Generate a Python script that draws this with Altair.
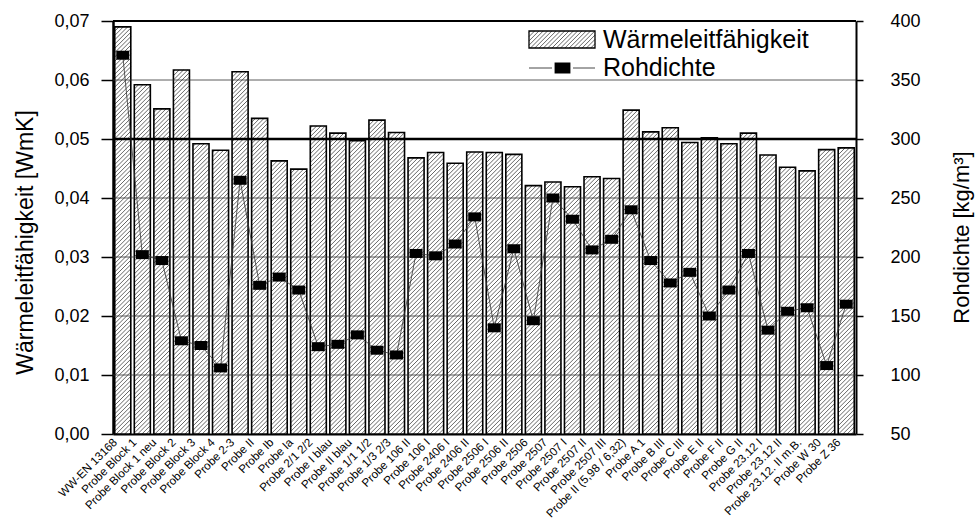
import math

import altair as alt
import pandas as pd

# ---- data -------------------------------------------------------------
names = [
    "WW-EN 13168", "Probe Block 1", "Probe Block 1 neu", "Probe Block 2",
    "Probe Block 3", "Probe Block 4", "Probe 2-3", "Probe II", "Probe Ib",
    "Probe Ia", "Probe 2/1 2/2", "Probe I blau", "Probe II blau",
    "Probe 1/1 1/2", "Probe 1/3 2/3", "Probe 106 II", "Probe 106 I",
    "Probe 2406 I", "Probe 2406 II", "Probe 2506 I", "Probe 2506 II",
    "Probe 2506", "Probe 2507", "Probe 2507 I", "Probe 2507 II",
    "Probe 2507 III", "Probe II (5,98 / 6,32)", "Probe A 1", "Probe B III",
    "Probe C III", "Probe E II", "Probe F II", "Probe G II", "Probe 23.12 I",
    "Probe 23.12 II", "Probe 23.12. II m.B.", "Probe W 30", "Probe Z 36",
]

# thermal conductivity [W/mK]
waerme = [
    0.0690, 0.0592, 0.0551, 0.0617, 0.0492, 0.0481, 0.0614, 0.0535, 0.0463,
    0.0449, 0.0522, 0.0510, 0.0497, 0.0532, 0.0511, 0.0468, 0.0477, 0.0459,
    0.0478, 0.0477, 0.0474, 0.0421, 0.0427, 0.0419, 0.0436, 0.0433, 0.0549,
    0.0512, 0.0519, 0.0494, 0.0502, 0.0492, 0.0510, 0.0473, 0.0452, 0.0446,
    0.0482, 0.0485,
]

# bulk density [kg/m3]
rohdichte = [
    371, 202, 197, 129, 125, 106, 265, 176, 183, 172, 124, 126, 134, 121, 117,
    203, 201, 211, 234, 140, 207, 146, 250, 232, 206, 215, 240, 197, 178, 187,
    150, 172, 203, 138, 154, 157, 108, 160,
]

left_ticks = [round(i * 0.005, 3) for i in range(15)]
right_ticks = list(range(50, 401, 25))
grid_levels = [0.01, 0.02, 0.03, 0.04, 0.06]
limit_level = [0.05]
top_level = [0.07]

# ---- layout constants -------------------------------------------------
W, H = 743, 413
N = len(names)
Y_MAX = 0.07
BAR_HALF = 0.41
FONT = "Liberation Sans"

df = pd.DataFrame({
    "pos": list(range(1, N + 1)),
    "name": names,
    "lam": waerme,
    "rho": rohdichte,
})
df["x0"] = df["pos"] - BAR_HALF
df["x1"] = df["pos"] + BAR_HALF

# 45 degree hatching inside every bar, built in data units
px_x = W / N
px_y = H / Y_MAX
k = px_x / px_y          # data-y per data-x for a 45 degree line
step = 4.3 / px_y        # vertical spacing of the hatch lines
hatch = []
for x0, x1, v in zip(df["x0"], df["x1"], df["lam"]):
    j0 = math.ceil((-x1 * k) / step)
    j1 = math.floor((v - x0 * k) / step)
    for j in range(j0, j1 + 1):
        c = j * step
        xs = max(x0, -c / k)
        xe = min(x1, (v - c) / k)
        if xe - xs > 1e-4:
            hatch.append({"hx0": xs, "hy0": c + xs * k, "hx1": xe, "hy1": c + xe * k})
hatch_df = pd.DataFrame(hatch)

x_scale = alt.Scale(domain=[0.5, N + 0.5], nice=False, zero=False)
y_left = alt.Scale(domain=[0, Y_MAX], nice=False, zero=False)
y_right = alt.Scale(domain=[50, 400], nice=False, zero=False)

x_axis = alt.Axis(
    values=list(range(1, N + 1)), labels=False, ticks=False,
    domainColor="black", domainWidth=2, grid=False, title=None,
)

left_axis = alt.Axis(
    values=left_ticks,
    labelExpr="round(datum.value * 1000) % 10 == 0 ? replace(format(datum.value, '.2f'), '.', ',') : ''",
    labelFontSize=18, labelColor="black", labelPadding=12,
    tickSize=12, tickWidth=1.5, tickColor="black",
    domainColor="black", domainWidth=2.5, grid=False,
    title="Wärmeleitfähigkeit [WmK]", titleFontSize=23, titleFontWeight="normal",
    titleColor="black", titleAngle=270, titleX=-81, titleY=221,
    titleAlign="center", titleBaseline="alphabetic",
)

right_axis = alt.Axis(
    orient="right", values=right_ticks,
    labelExpr="datum.value % 50 == 0 ? datum.label : ''",
    labelFontSize=18, labelColor="black", labelPadding=27,
    tickSize=7, tickWidth=1.5, tickColor="black",
    domainColor="black", domainWidth=2, grid=False,
    title="Rohdichte [kg/m³]", titleFontSize=22, titleFontWeight="normal",
    titleColor="black", titleAngle=270, titleX=112, titleY=216,
    titleAlign="center", titleBaseline="alphabetic",
)

# ---- conductivity bars -------------------------------------------------
bars = alt.Chart(df).mark_rect(fill="white", stroke=None).encode(
    x=alt.X("x0:Q", scale=x_scale, axis=x_axis),
    x2="x1:Q",
    y=alt.Y("lam:Q", scale=y_left, axis=left_axis),
    y2=alt.datum(0),
)

hatch_lines = alt.Chart(hatch_df).mark_rule(color="#333", strokeWidth=0.75).encode(
    x=alt.X("hx0:Q", scale=x_scale),
    x2="hx1:Q",
    y=alt.Y("hy0:Q", scale=y_left),
    y2="hy1:Q",
)

bar_outline = alt.Chart(df).mark_rect(fill=None, stroke="black", strokeWidth=1.6).encode(
    x=alt.X("x0:Q", scale=x_scale),
    x2="x1:Q",
    y=alt.Y("lam:Q", scale=y_left),
    y2=alt.datum(0),
)

grid = alt.Chart(pd.DataFrame({"g": grid_levels})).mark_rule(
    color="#333", strokeWidth=0.8
).encode(y=alt.Y("g:Q", scale=y_left))

limit = alt.Chart(pd.DataFrame({"g": limit_level})).mark_rule(
    color="black", strokeWidth=2.6
).encode(y=alt.Y("g:Q", scale=y_left))

top_frame = alt.Chart(pd.DataFrame({"g": top_level})).mark_rule(
    color="black", strokeWidth=2
).encode(y=alt.Y("g:Q", scale=y_left))

# category names, rotated under each bar
cat_labels = alt.Chart(df).transform_calculate(
    lx="datum.pos - 0.36"
).mark_text(
    angle=315, align="right", baseline="middle", fontSize=11.6, color="black"
).encode(
    x=alt.X("lx:Q", scale=x_scale),
    y=alt.value(H + 7),
    text="name:N",
)

left_layer = alt.layer(bars, hatch_lines, bar_outline, grid, limit, top_frame, cat_labels)

# ---- density line with rectangular markers -----------------------------
rect_shape = "M-1.44,-1L1.44,-1L1.44,1L-1.44,1Z"

rho_line = alt.Chart(df).mark_line(color="#333", strokeWidth=0.8).encode(
    x=alt.X("pos:Q", scale=x_scale),
    y=alt.Y("rho:Q", scale=y_right, axis=right_axis),
)
rho_pts = alt.Chart(df).mark_point(
    shape=rect_shape, filled=True, fill="black", stroke=None, size=81, opacity=1
).encode(
    x=alt.X("pos:Q", scale=x_scale),
    y=alt.Y("rho:Q", scale=y_right),
)
right_layer = alt.layer(rho_line, rho_pts)

# ---- legend (pixel positions inside the plot area) ----------------------
one = pd.DataFrame({"a": [0]})
SW_X0, SW_X1, SW_Y0, SW_Y1 = 416, 482, 10, 27
sw_hatch = []
sw_step = 4.3
c = -(SW_X1 - SW_X0)
while c < (SW_Y1 - SW_Y0):
    # line in swatch-local pixels: y_up = c + (x - SW_X0)
    xs = max(SW_X0, SW_X0 - c)
    xe = min(SW_X1, SW_X0 + (SW_Y1 - SW_Y0) - c)
    if xe > xs:
        sw_hatch.append({
            "lx0": xs, "ly0": SW_Y1 - (c + xs - SW_X0),
            "lx1": xe, "ly1": SW_Y1 - (c + xe - SW_X0),
        })
    c += sw_step
sw_df = pd.DataFrame(sw_hatch)

lg_hatch = alt.Chart(sw_df).mark_rule(color="#333", strokeWidth=0.75).encode(
    x=alt.X("lx0:Q", scale=None), x2="lx1:Q",
    y=alt.Y("ly0:Q", scale=None), y2="ly1:Q",
)
lg_box = alt.Chart(one).mark_rect(fill=None, stroke="black", strokeWidth=1.3).encode(
    x=alt.value(SW_X0), x2=alt.value(SW_X1), y=alt.value(SW_Y0), y2=alt.value(SW_Y1)
)
lg_text1 = alt.Chart(one).mark_text(
    align="left", baseline="alphabetic", fontSize=25, color="black"
).encode(x=alt.value(490), y=alt.value(27), text=alt.value("Wärmeleitfähigkeit"))
lg_line_a = alt.Chart(one).mark_rule(color="#333", strokeWidth=0.9).encode(
    x=alt.value(SW_X0), x2=alt.value(439), y=alt.value(47)
)
lg_line_b = alt.Chart(one).mark_rule(color="#333", strokeWidth=0.9).encode(
    x=alt.value(460), x2=alt.value(SW_X1), y=alt.value(47)
)
lg_marker = alt.Chart(one).mark_point(
    shape=rect_shape, filled=True, fill="black", stroke=None, size=121, opacity=1
).encode(x=alt.value(449.5), y=alt.value(47))
lg_text2 = alt.Chart(one).mark_text(
    align="left", baseline="alphabetic", fontSize=25, color="black"
).encode(x=alt.value(490), y=alt.value(55), text=alt.value("Rohdichte"))

legend = alt.layer(lg_hatch, lg_box, lg_text1, lg_line_a, lg_line_b, lg_marker, lg_text2)

chart = (
    alt.layer(left_layer, right_layer, legend)
    .resolve_scale(y="independent")
    .properties(
        width=W, height=H,
        autosize=alt.AutoSizeParams(type="none"),
        padding={"left": 113, "top": 21, "right": 119, "bottom": 86},
        background="white",
    )
    .configure(font=FONT)
    .configure_view(stroke=None)
)

chart.save("out.html", embed_options={"renderer": "svg", "actions": False})
